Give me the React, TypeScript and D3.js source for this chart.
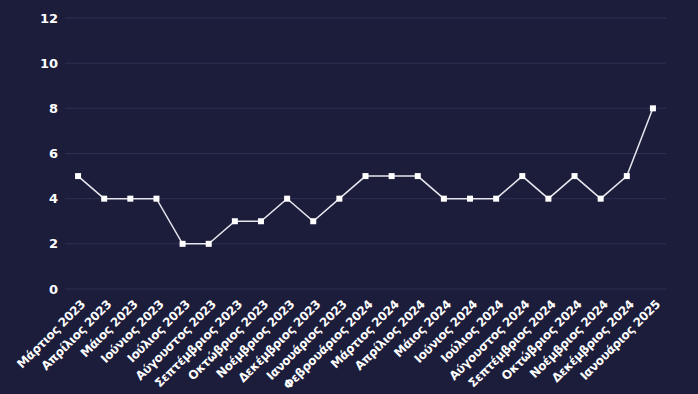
import React, { useEffect, useRef } from "react";
import * as d3 from "d3";

const categories = [
  "Μάρτιος 2023", "Απρίλιος 2023", "Μάιος 2023", "Ιούνιος 2023", "Ιούλιος 2023",
  "Αύγουστος 2023", "Σεπτέμβριος 2023", "Οκτώβριος 2023", "Νοέμβριος 2023",
  "Δεκέμβριος 2023", "Ιανουάριος 2023", "Φεβρουάριος 2024", "Μάρτιος 2024",
  "Απρίλιος 2024", "Μάιος 2024", "Ιούνιος 2024", "Ιούλιος 2024", "Αύγουστος 2024",
  "Σεπτέμβριος 2024", "Οκτώβριος 2024", "Νοέμβριος 2024", "Δεκέμβριος 2024",
  "Ιανουάριος 2025",
];
const values = [5, 4, 4, 4, 2, 2, 3, 3, 4, 3, 4, 5, 5, 5, 4, 4, 4, 5, 4, 5, 4, 5, 8];
const yTicks = [0, 2, 4, 6, 8, 10, 12];

const W = 698, H = 394;
const M = { left: 65, right: 32, top: 18, bottom: 105 };
const BG = "#1c1c3b";

export default function App() {
  const ref = useRef<SVGSVGElement>(null);
  useEffect(() => {
    document.body.style.margin = "0";
    document.body.style.background = BG;
    const svg = d3.select(ref.current);
    svg.selectAll("*").remove();
    svg.append("rect").attr("width", W).attr("height", H).attr("fill", BG);

    const x = d3.scalePoint<string>().domain(categories).range([M.left, W - M.right]).padding(0.5);
    const y = d3.scaleLinear().domain([0, 12]).range([H - M.bottom, M.top]);

    const font = "DejaVu Sans, Verdana, sans-serif";

    const g = svg.append("g");
    g.selectAll("line.grid").data(yTicks).join("line")
      .attr("x1", M.left).attr("x2", W - M.right)
      .attr("y1", d => y(d)).attr("y2", d => y(d))
      .attr("stroke", "#2f2f52").attr("stroke-width", 1);

    g.selectAll("text.ytick").data(yTicks).join("text")
      .attr("x", 58).attr("y", d => y(d)).attr("dy", "0.35em")
      .attr("text-anchor", "end").attr("fill", "#ffffff")
      .attr("font-family", font).attr("font-weight", "bold").attr("font-size", 13)
      .text(d => d);

    g.selectAll("text.xtick").data(categories).join("text")
      .attr("transform", d => `translate(${(x(d) as number) + 8},${y(0) + 16}) rotate(-45)`)
      .attr("text-anchor", "end").attr("fill", "#ffffff")
      .attr("font-family", font).attr("font-weight", "bold").attr("font-size", 12)
      .attr("letter-spacing", -0.3)
      .text(d => d);

    const line = d3.line<number>().x((_, i) => x(categories[i]) as number).y(d => y(d));
    g.append("path").datum(values).attr("d", line)
      .attr("fill", "none").attr("stroke", "#e6e6ee").attr("stroke-width", 1.5);

    g.selectAll("rect.pt").data(values).join("rect")
      .attr("x", (_, i) => (x(categories[i]) as number) - 3)
      .attr("y", d => y(d) - 3)
      .attr("width", 6).attr("height", 6).attr("fill", "#ffffff");
  }, []);
  return <svg ref={ref} width={W} height={H} style={{ display: "block" }} />;
}
